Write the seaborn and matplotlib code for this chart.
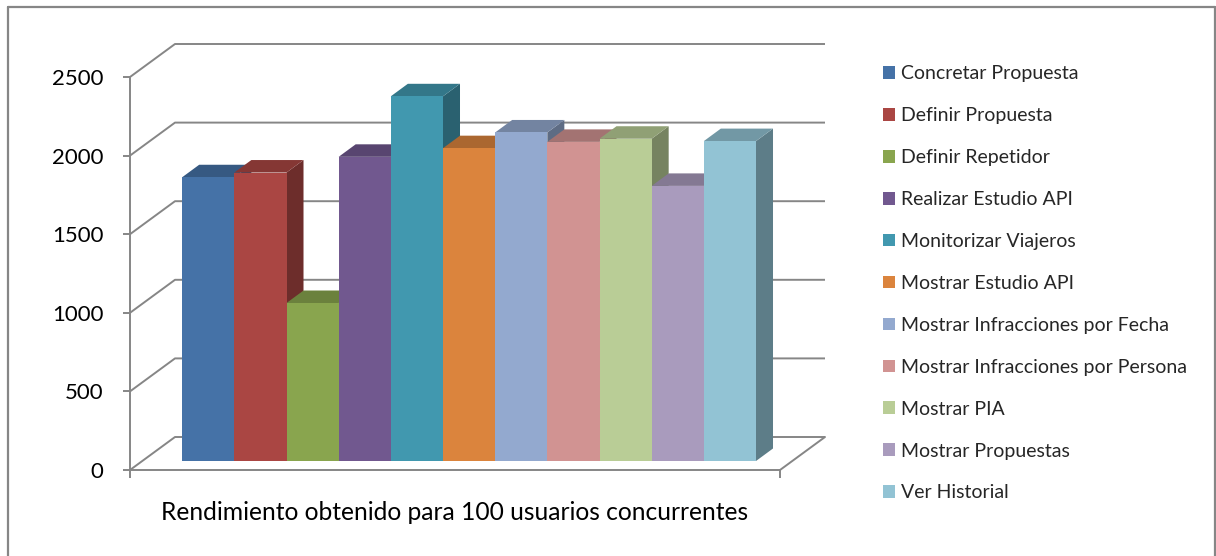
import numpy as np
import pandas as pd
import seaborn as sns
import matplotlib.pyplot as plt
import matplotlib.colors as mcolors
from matplotlib.patches import Polygon, Rectangle
from matplotlib.lines import Line2D

# Response time per use case, 100 concurrent users
categories = [
    "Concretar Propuesta",
    "Definir Propuesta",
    "Definir Repetidor",
    "Realizar Estudio API",
    "Monitorizar Viajeros",
    "Mostrar Estudio API",
    "Mostrar Infracciones por Fecha",
    "Mostrar Infracciones por Persona",
    "Mostrar PIA",
    "Mostrar Propuestas",
    "Ver Historial",
]
values = [1805, 1835, 1005, 1935, 2320, 1990, 2090, 2030, 2050, 1750, 2035]
y_ticks = [0, 500, 1000, 1500, 2000, 2500]
x_title = "Rendimiento obtenido para 100 usuarios concurrentes"

colors = ["#4572A7", "#AA4643", "#89A54E", "#71588F", "#4198AF", "#DB843D",
          "#93A9CF", "#D19392", "#B9CD96", "#A99BBD", "#92C3D4"]

sns.set_theme(style="white")
plt.rcParams["font.family"] = ["Lato", "DejaVu Sans"]

W, H = 1216, 556
fig = plt.figure(figsize=(W / 100, H / 100), dpi=100)

# front plane of the 3-D box, in pixels
X0, X1, Y0, YT = 130, 780, 470, 77
ax = fig.add_axes([X0 / W, 1 - Y0 / H, (X1 - X0) / W, (Y0 - YT) / H])
ax.set_facecolor("none")

df = pd.DataFrame({"accion": categories, "valor": values})
sns.barplot(data=df, x="accion", y="valor", hue="accion", hue_order=categories,
            palette=colors, width=1, saturation=1, linewidth=0, ax=ax, legend=True)

XL = (-1.27, 11.19)
ax.set_xlim(*XL)
ax.set_ylim(0, 2500)
ux = (XL[1] - XL[0]) / (X1 - X0)   # data units per pixel
uy = 2500 / (Y0 - YT)

# depth offsets (pixels): bar front face, bar thickness, back wall
FO = (12, 9)
BD = (17, 12.5)
WD = (45, 33)
fx, fy = FO[0] * ux, FO[1] * uy
bx, by = BD[0] * ux, BD[1] * uy
wx, wy = WD[0] * ux, WD[1] * uy

grid_c = "#868686"
glw = 1.4

# back wall gridlines with the left-wall diagonals
for v in y_ticks:
    ax.plot([XL[0], XL[0] + wx, XL[1] + wx], [v, v + wy, v + wy],
            color=grid_c, lw=glw, zorder=0.5, clip_on=False,
            solid_capstyle="butt")
# right edge of the floor
ax.plot([XL[1], XL[1] + wx], [0, wy], color=grid_c, lw=glw, zorder=0.5,
        clip_on=False)

def shade(c, f):
    r, g, b = mcolors.to_rgb(c)
    return (r * f, g * f, b * f)

# keep only the drawn bars (one per category), ordered along x
bars = [p for p in ax.patches
        if isinstance(p, Rectangle) and np.isfinite(p.get_height())
        and p.get_height() > 0 and p.get_width() > 0]
bars = sorted(bars, key=lambda p: p.get_x())
for p in bars:
    col = p.get_facecolor()
    x0 = p.get_x() + fx
    w = p.get_width()
    h = p.get_height()
    x1 = x0 + w
    side = Polygon([(x1, fy), (x1 + bx, fy + by), (x1 + bx, h + fy + by), (x1, h + fy)],
                   closed=True, facecolor=shade(col, 0.64), edgecolor="none",
                   zorder=1.5, clip_on=False)
    top = Polygon([(x0, h + fy), (x1, h + fy), (x1 + bx, h + fy + by), (x0 + bx, h + fy + by)],
                  closed=True, facecolor=shade(col, 0.78), edgecolor="none",
                  zorder=1.5, clip_on=False)
    ax.add_patch(side)
    ax.add_patch(top)
    p.set_x(x0)
    p.set_y(fy)
    p.set_zorder(2)
    p.set_clip_on(False)

# axes styling
for s in ["top", "right"]:
    ax.spines[s].set_visible(False)
for s in ["left", "bottom"]:
    ax.spines[s].set_color(grid_c)
    ax.spines[s].set_linewidth(glw)
    ax.spines[s].set_zorder(0.6)
ax.set_yticks(y_ticks)
ax.set_yticklabels([str(v) for v in y_ticks])
ax.tick_params(axis="y", direction="out", length=5, width=glw, color=grid_c,
               pad=14, labelsize=16, labelcolor="black", left=True)
ax.set_xticks([XL[0], XL[1]])
ax.set_xticklabels(["", ""])
ax.tick_params(axis="x", direction="out", length=6, width=glw, color=grid_c,
               bottom=True)
ax.set_xlabel("")
ax.set_ylabel("")

fig.text(455 / W, 1 - 520 / H, x_title, ha="center", va="baseline",
         fontsize=17.7, color="black")

# legend on the right
handles, labels = ax.get_legend_handles_labels()
if ax.get_legend() is not None:
    ax.get_legend().remove()
fs = 14
fpx = fs * 100 / 72
fig.legend(handles, labels, loc="upper left",
           bbox_to_anchor=(883 / W, 1 - 65.5 / H), bbox_transform=fig.transFigure,
           frameon=False, borderpad=0, borderaxespad=0, fontsize=fs,
           handlelength=12 / fpx, handleheight=12 / fpx, handletextpad=6 / fpx,
           labelspacing=1.28)

# chart area border
for xs, ys in [([8, 8], [560, 7]), ([8, 1215], [7, 7]), ([1215, 1215], [7, 560])]:
    fig.add_artist(Line2D([x / W for x in xs], [1 - y / H for y in ys],
                          color=grid_c, lw=1.6, transform=fig.transFigure))

fig.savefig("out.png", dpi=100)
